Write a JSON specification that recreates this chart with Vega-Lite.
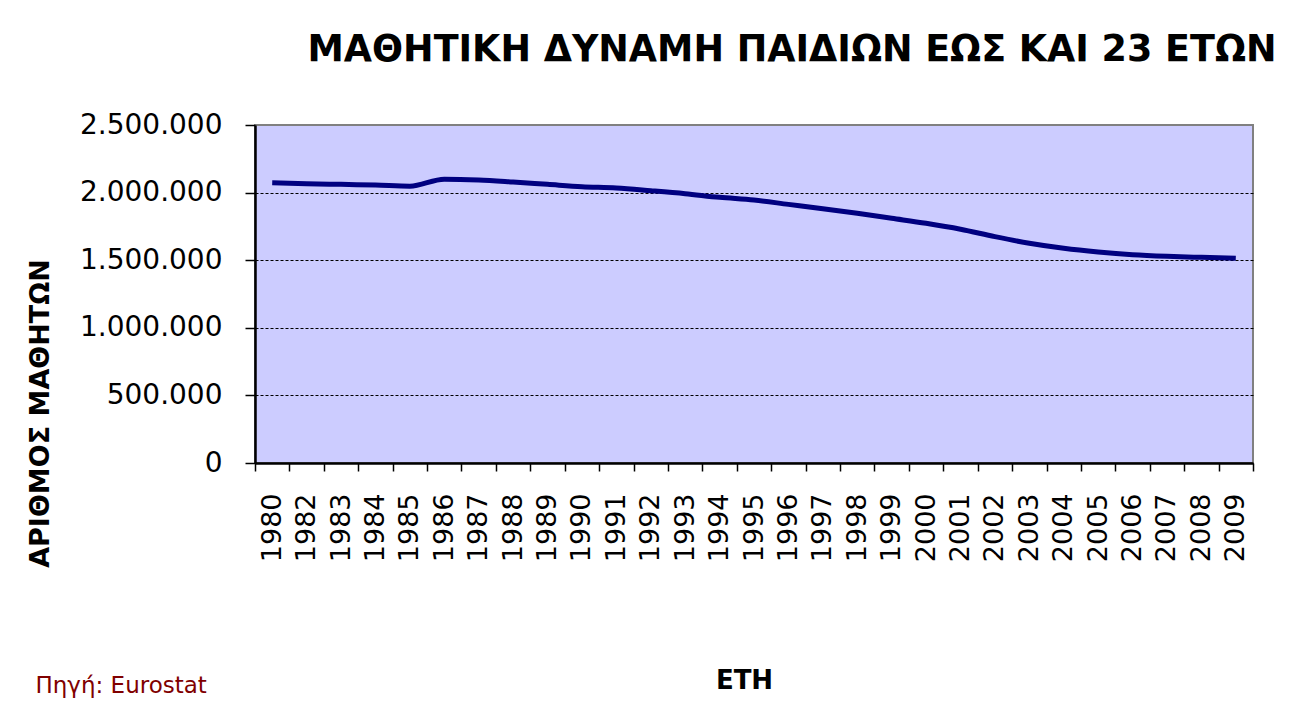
{
  "$schema": "https://vega.github.io/schema/vega-lite/v6.json",
  "autosize": {"type": "none"},
  "width": 998,
  "height": 338,
  "padding": {"left": 255, "top": 125, "right": 50, "bottom": 246},
  "background": "white",
  "title": {
    "text": "ΜΑΘΗΤΙΚΗ ΔΥΝΑΜΗ ΠΑΙΔΙΩΝ ΕΩΣ ΚΑΙ 23 ΕΤΩΝ",
    "font": "DejaVu Sans",
    "fontSize": 36.5,
    "fontWeight": "bold",
    "color": "black",
    "anchor": "middle",
    "frame": "group",
    "baseline": "alphabetic",
    "offset": 14,
    "dx": 38
  },
  "config": {
    "locale": {"number": {"decimal": ",", "thousands": ".", "grouping": [3], "currency": ["", "€"]}},
    "view": {"fill": "#CCCCFF", "stroke": "#808080", "strokeWidth": 2}
  },
  "data": {"values": [
    {"year": "1980", "students": 2073000},
    {"year": "1982", "students": 2066000},
    {"year": "1983", "students": 2061000},
    {"year": "1984", "students": 2056000},
    {"year": "1985", "students": 2047000},
    {"year": "1986", "students": 2099000},
    {"year": "1987", "students": 2093000},
    {"year": "1988", "students": 2078000},
    {"year": "1989", "students": 2061000},
    {"year": "1990", "students": 2044000},
    {"year": "1991", "students": 2034000},
    {"year": "1992", "students": 2014000},
    {"year": "1993", "students": 1992000},
    {"year": "1994", "students": 1965000},
    {"year": "1995", "students": 1945000},
    {"year": "1996", "students": 1913000},
    {"year": "1997", "students": 1881000},
    {"year": "1998", "students": 1847000},
    {"year": "1999", "students": 1810000},
    {"year": "2000", "students": 1773000},
    {"year": "2001", "students": 1729000},
    {"year": "2002", "students": 1674000},
    {"year": "2003", "students": 1625000},
    {"year": "2004", "students": 1588000},
    {"year": "2005", "students": 1561000},
    {"year": "2006", "students": 1541000},
    {"year": "2007", "students": 1529000},
    {"year": "2008", "students": 1521000},
    {"year": "2009", "students": 1514000}
  ]},
  "layer": [
    {
      "mark": {"type": "line", "color": "#000080", "strokeWidth": 5, "interpolate": "monotone"},
      "encoding": {
        "x": {
          "field": "year", "type": "nominal", "sort": null, "bandPosition": 0.5,
          "scale": {"type": "band", "paddingInner": 0, "paddingOuter": 0},
          "axis": {
            "title": "ΕΤΗ",
            "titleFont": "DejaVu Sans", "titleFontSize": 26, "titleFontWeight": "bold", "titleColor": "black",
            "titleX": 489, "titleY": 225, "titleAlign": "center", "titleBaseline": "alphabetic", "titleAnchor": null,
            "labelAngle": -90, "labelFont": "DejaVu Sans", "labelFontSize": 27, "labelColor": "black",
            "labelPadding": 22, "labelAlign": "right", "labelBaseline": "middle",
            "tickBand": "extent", "tickSize": 8, "tickColor": "black", "tickWidth": 1.5,
            "domainColor": "black", "domainWidth": 2.5, "grid": false
          }
        },
        "y": {
          "field": "students", "type": "quantitative",
          "scale": {"domain": [0, 2500000], "nice": false},
          "axis": {
            "title": "ΑΡΙΘΜΟΣ ΜΑΘΗΤΩΝ",
            "titleFont": "DejaVu Sans", "titleFontSize": 27, "titleFontWeight": "bold", "titleColor": "black",
            "titleAngle": -90, "titleX": -215, "titleY": 288, "titleAlign": "center", "titleBaseline": "middle", "titleAnchor": null,
            "values": [0, 500000, 1000000, 1500000, 2000000, 2500000],
            "format": ",d",
            "labelFont": "DejaVu Sans", "labelFontSize": 28, "labelColor": "black", "labelPadding": 23,
            "tickSize": 10, "tickColor": "black", "tickWidth": 1.5,
            "domainColor": "black", "domainWidth": 2.5,
            "grid": true,
            "gridColor": {"condition": {"test": "datum.value >= 2500000", "value": "#808080"}, "value": "black"},
            "gridDash": {"condition": {"test": "datum.value >= 2500000", "value": []}, "value": [3, 2]},
            "gridWidth": 1
          }
        }
      }
    },
    {
      "mark": {"type": "line", "opacity": 0},
      "encoding": {
        "x": {"field": "year", "type": "nominal", "sort": null, "bandPosition": 0.5,
              "scale": {"type": "band", "paddingInner": 0, "paddingOuter": 0}},
        "y": {
          "field": "students", "type": "quantitative",
          "scale": {"domain": [0, 2500000], "nice": false},
          "axis": {
            "orient": "right",
            "title": "Πηγή: Eurostat",
            "titleFont": "DejaVu Sans", "titleFontSize": 23, "titleFontWeight": "normal", "titleColor": "#800000",
            "titleAngle": 0, "titleX": -1218, "titleY": 567, "titleAlign": "left", "titleBaseline": "alphabetic", "titleAnchor": null,
            "labels": false, "ticks": false, "domain": false, "grid": false
          }
        }
      }
    }
  ],
  "resolve": {"scale": {"y": "independent"}, "axis": {"y": "independent"}}
}
